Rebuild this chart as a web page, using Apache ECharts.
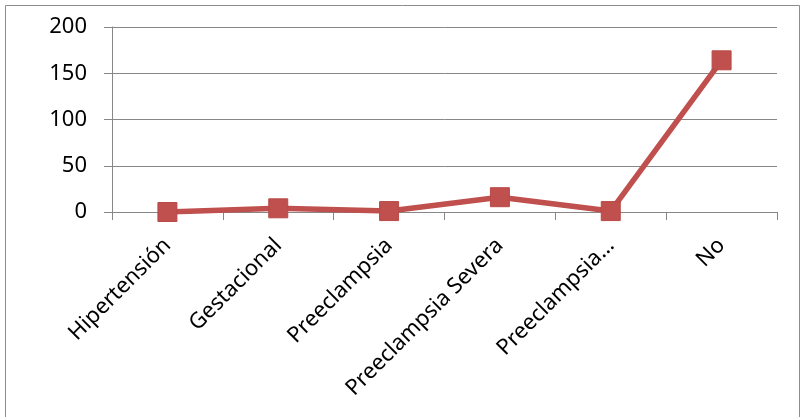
<!DOCTYPE html>
<html>
<head>
<meta charset="utf-8">
<script src="https://cdn.jsdelivr.net/npm/echarts@6/dist/echarts.min.js"></script>
<style>
  html, body { margin: 0; padding: 0; background: #fff; }
  #chart { width: 806px; height: 417px; }
</style>
</head>
<body>
<div id="chart"></div>
<script>
// Categorías de trastorno hipertensivo
const categories = ['Hipertensión', 'Gestacional', 'Preeclampsia', 'Preeclampsia Severa', 'Preeclampsia…', 'No'];
// Número de casos por categoría
const casos = [0, 4, 1, 16, 1, 164];
// Escala del eje vertical
const yMin = 0;
const yMax = 200;
const yStep = 50;

const chart = echarts.init(document.getElementById('chart'), null, { renderer: 'canvas' });
const gray = '#878787';
const fontFamily = '"Noto Sans", "Open Sans", sans-serif';

chart.setOption({
  animation: false,
  backgroundColor: '#ffffff',
  graphic: [{
    type: 'rect',
    shape: { x: 5.5, y: 5.5, width: 794, height: 430 },
    style: { fill: 'none', stroke: '#8c8c8c', lineWidth: 1 },
    silent: true
  }],
  grid: { left: 112, right: 29, top: 27, bottom: 205, containLabel: false },
  xAxis: {
    type: 'category',
    data: categories,
    boundaryGap: true,
    axisLine: { show: true, lineStyle: { color: gray, width: 1 } },
    axisTick: { show: true, length: 8, lineStyle: { color: gray }, alignWithLabel: false },
    axisLabel: {
      rotate: 45,
      interval: 0,
      margin: 30,
      color: '#000',
      fontSize: 22,
      fontFamily: fontFamily
    },
    splitLine: { show: false }
  },
  yAxis: {
    type: 'value',
    min: yMin,
    max: yMax,
    interval: yStep,
    axisLine: { show: true, lineStyle: { color: gray, width: 1 } },
    axisTick: { show: true, inside: false, length: 8, lineStyle: { color: gray } },
    axisLabel: {
      margin: 25,
      color: '#000',
      fontSize: 22,
      fontFamily: fontFamily
    },
    splitLine: { show: true, lineStyle: { color: gray, width: 1 } }
  },
  series: [{
    type: 'line',
    data: casos,
    symbol: 'rect',
    symbolSize: 19,
    lineStyle: { color: '#C0504D', width: 5.5 },
    itemStyle: { color: '#C0504D', borderColor: '#B84A47', borderWidth: 1 },
    z: 3
  }]
});
</script>
</body>
</html>
